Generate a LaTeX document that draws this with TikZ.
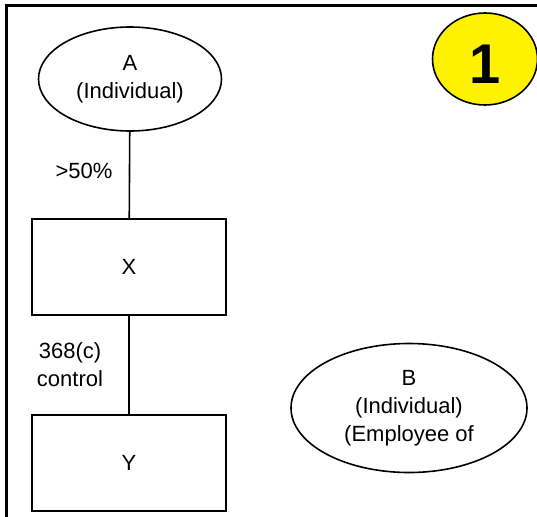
\documentclass[tikz,border=0pt]{standalone}
\usepackage{fontspec}
\setmainfont{Liberation Sans}
\usetikzlibrary{shapes.geometric}
\begin{document}
\begin{tikzpicture}[x=1pt,y=-1pt,
  txt/.style={font=\fontsize{22}{28}\selectfont, align=center, inner sep=0pt},
  oval/.style={ellipse, draw, line width=1.6pt, inner sep=0pt, txt},
  boxnode/.style={rectangle, draw, line width=1.6pt, inner sep=0pt, txt},
  link/.style={line width=1.6pt},
  frame/.style={line width=3.1pt}]
\useasboundingbox (0,0) rectangle (537,516);
\fill[white] (0,0) rectangle (537,516);
% frame
\draw[frame] (6.8,530) -- (6.8,5.8) -- (545,5.8);
% nodes
\node[oval, minimum width=183pt, minimum height=104pt] (A) at (130,79) {A\\(Individual)};
\node[boxnode, minimum width=194pt, minimum height=96pt] (X) at (129,267) {X};
\node[boxnode, minimum width=194pt, minimum height=96pt] (Y) at (129,463) {Y};
\node[oval, minimum width=236pt, minimum height=129pt] (B) at (409,408) {B\\(Individual)\\(Employee of};
\node[ellipse, draw, line width=1.6pt, fill=yellow, inner sep=0pt, minimum width=105pt, minimum height=92pt, text height=50pt, text depth=0pt, font=\fontsize{56}{60}\selectfont\bfseries] (one) at (485,59) {1};
% connectors
\draw[link] (A) -- (X);
\draw[link] (X) -- (Y);
% labels
\node[txt] (l1) at (84,171) {>50\%};
\node[txt] (l2) at (70,365) {368(c)\\control};
\end{tikzpicture}
\end{document}
